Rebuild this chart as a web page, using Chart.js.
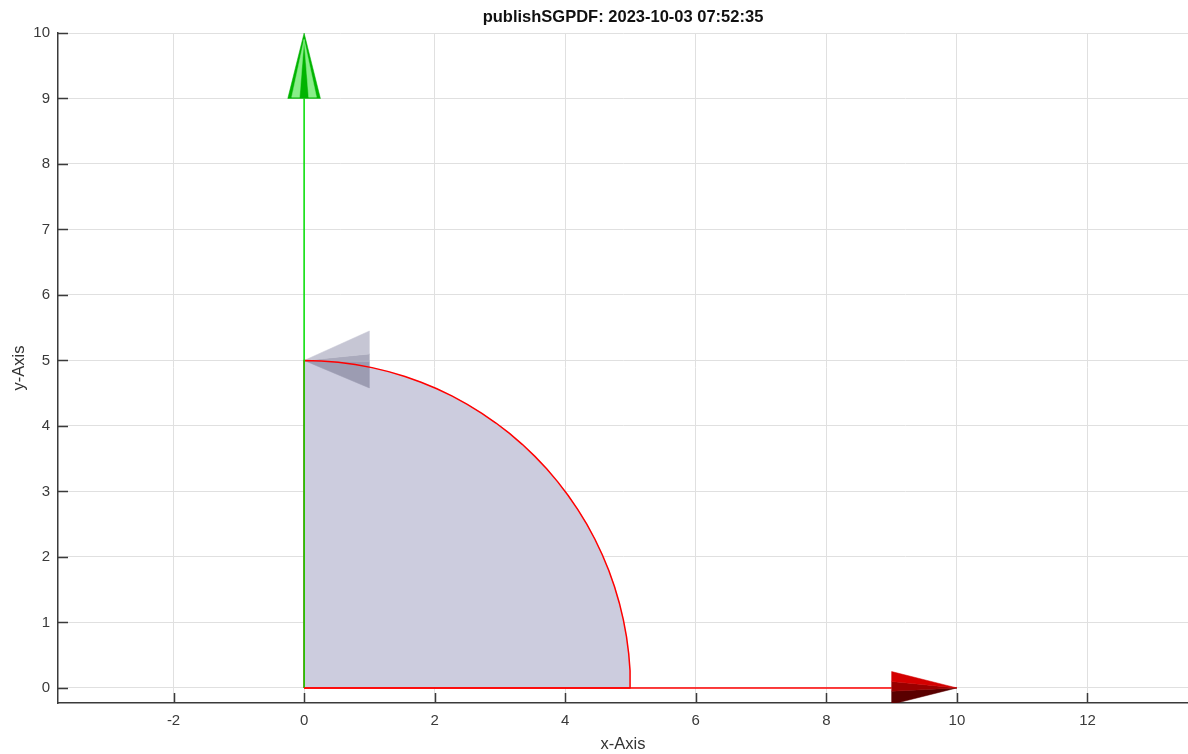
<!DOCTYPE html>
<html>
<head>
<meta charset="utf-8">
<script src="https://cdn.jsdelivr.net/npm/chart.js@4.4.0/dist/chart.umd.min.js"></script>
<style>
  html, body { margin: 0; padding: 0; background: #fff; }
  #wrap { width: 1188px; height: 754px; }
</style>
</head>
<body>
<div id="wrap"><canvas id="myChart" width="1188" height="754"></canvas></div>
<script>
// axis ticks
const xTicks = [-2, 0, 2, 4, 6, 8, 10, 12];
const yTicks = [0, 1, 2, 3, 4, 5, 6, 7, 8, 9, 10];

const chartTitle = 'publishSGPDF: 2023-10-03 07:52:35';

// quarter disc, radius 5
const sectorX = [0, 5, 4.9931, 4.9726, 4.9384, 4.8907, 4.8296, 4.7553, 4.6679, 4.5677, 4.4550, 4.3301,
    4.1934, 4.0451, 3.8857, 3.7157, 3.5355, 3.3457, 3.1466, 2.9389, 2.7232, 2.5,
    2.2700, 2.0337, 1.7918, 1.5451, 1.2941, 1.0396, 0.7822, 0.5226, 0.2617, 0, 0];
const sectorY = [0, 0, 0.2617, 0.5226, 0.7822, 1.0396, 1.2941, 1.5451, 1.7918, 2.0337, 2.2700, 2.5,
    2.7232, 2.9389, 3.1466, 3.3457, 3.5355, 3.7157, 3.8857, 4.0451, 4.1934, 4.3301,
    4.4550, 4.5677, 4.6679, 4.7553, 4.8296, 4.8907, 4.9384, 4.9726, 4.9931, 5, 0];

// arrow shafts
const greenShaftX = [0, 0];
const greenShaftY = [0, 9];
const redShaftX = [0, 9];
const redShaftY = [0, 0];

// arrow heads
const greenHeadX = [-0.25, 0, 0.25, -0.25];
const greenHeadY = [9, 10, 9, 9];
const greenStripeLX = [-0.19, 0, -0.07, -0.19];
const greenStripeLY = [9.02, 9.9, 9.02, 9.02];
const greenStripeRX = [0.07, 0, 0.19, 0.07];
const greenStripeRY = [9.02, 9.9, 9.02, 9.02];

const redBand1X = [9, 10, 9, 9];
const redBand1Y = [0.25, 0, 0.1, 0.25];
const redBand2X = [9, 10, 9, 9];
const redBand2Y = [0.1, 0, -0.05, 0.1];
const redBand3X = [9, 10, 9, 9];
const redBand3Y = [-0.05, 0, -0.25, -0.05];

const grayUpX = [1, 0, 1, 1];
const grayUpY = [5.45, 5, 5.1, 5.45];
const grayMidX = [1, 0, 1, 1];
const grayMidY = [5.1, 5, 4.98, 5.1];
const grayLowX = [1, 0, 1, 1];
const grayLowY = [4.98, 5, 4.58, 4.98];

const xRange = [-3.77, 13.54];
const yRange = [-0.23, 10];

const FONT = 'Liberation Sans, Arial, Helvetica, sans-serif';

function pts(xs, ys) {
    return xs.map((x, i) => ({ x: x, y: ys[i] }));
}

function shape(xs, ys, color, order) {
    return {
        data: pts(xs, ys),
        showLine: true,
        fill: 'shape',
        backgroundColor: color,
        borderColor: color,
        borderWidth: 0.5,
        pointRadius: 0,
        tension: 0,
        order: order
    };
}

function line(xs, ys, color, order) {
    return {
        data: pts(xs, ys),
        showLine: true,
        fill: false,
        borderColor: color,
        borderWidth: 1.5,
        pointRadius: 0,
        tension: 0,
        order: order
    };
}

// inward tick marks and a title centred over the axes, like the original plot
const axesDecor = {
    id: 'axesDecor',
    afterDraw(chart) {
        const ctx = chart.ctx;
        const area = chart.chartArea;
        const xs = chart.scales.x;
        const ys = chart.scales.y;
        ctx.save();
        ctx.strokeStyle = '#3a3a3a';
        ctx.lineWidth = 1.5;
        ctx.beginPath();
        xTicks.forEach(v => {
            const px = Math.round(xs.getPixelForValue(v)) + 0.5;
            ctx.moveTo(px, area.bottom);
            ctx.lineTo(px, area.bottom - 10);
        });
        yTicks.forEach(v => {
            const py = Math.round(ys.getPixelForValue(v)) + 0.5;
            ctx.moveTo(area.left, py);
            ctx.lineTo(area.left + 10, py);
        });
        ctx.stroke();

        ctx.fillStyle = '#111';
        ctx.font = 'bold 16.5px ' + FONT;
        ctx.textAlign = 'center';
        ctx.textBaseline = 'middle';
        ctx.fillText(chartTitle, (area.left + area.right) / 2, area.top - 16);
        ctx.restore();
    }
};

const ctx = document.getElementById('myChart').getContext('2d');
new Chart(ctx, {
    type: 'scatter',
    data: {
        datasets: [
            shape(sectorX, sectorY, 'rgba(204,204,222,1)', 9),
            shape(grayUpX, grayUpY, 'rgba(198,198,212,1)', 8),
            shape(grayMidX, grayMidY, 'rgba(170,170,188,1)', 8),
            shape(grayLowX, grayLowY, 'rgba(156,156,178,1)', 8),
            line(sectorX, sectorY, '#ff0000', 6),
            line(redShaftX, redShaftY, '#ff0000', 5),
            line(greenShaftX, greenShaftY, '#00e000', 5),
            shape(greenHeadX, greenHeadY, '#00b400', 3),
            shape(greenStripeLX, greenStripeLY, '#88ee88', 2),
            shape(greenStripeRX, greenStripeRY, '#88ee88', 2),
            shape(redBand1X, redBand1Y, '#d40000', 3),
            shape(redBand2X, redBand2Y, '#9a0000', 3),
            shape(redBand3X, redBand3Y, '#5a0000', 3)
        ]
    },
    options: {
        responsive: false,
        animation: false,
        layout: { padding: { left: 0, right: 0, top: 33, bottom: 0 } },
        plugins: {
            legend: { display: false },
            tooltip: { enabled: false },
            title: { display: false }
        },
        scales: {
            x: {
                type: 'linear',
                min: xRange[0],
                max: xRange[1],
                afterBuildTicks: s => { s.ticks = xTicks.map(v => ({ value: v })); },
                afterFit: s => { s.height = 51; },
                ticks: { color: '#3a3a3a', font: { family: FONT, size: 15 }, padding: 9, maxRotation: 0 },
                grid: { color: '#e0e0e0', lineWidth: 1, drawTicks: false },
                border: { display: true, color: '#3a3a3a', width: 1.5 },
                title: { display: true, text: 'x-Axis', color: '#333', font: { family: FONT, size: 16.5 }, padding: { top: 2, bottom: 0 } }
            },
            y: {
                type: 'linear',
                min: yRange[0],
                max: yRange[1],
                afterBuildTicks: s => { s.ticks = yTicks.map(v => ({ value: v })); },
                afterFit: s => { s.width = 58; },
                ticks: { color: '#3a3a3a', font: { family: FONT, size: 15 }, padding: 8 },
                grid: { color: '#e0e0e0', lineWidth: 1, drawTicks: false },
                border: { display: true, color: '#3a3a3a', width: 1.5 },
                title: { display: true, text: 'y-Axis', color: '#333', font: { family: FONT, size: 16.5 }, padding: { top: 10, bottom: 0 } }
            }
        }
    },
    plugins: [axesDecor]
});
</script>
</body>
</html>
